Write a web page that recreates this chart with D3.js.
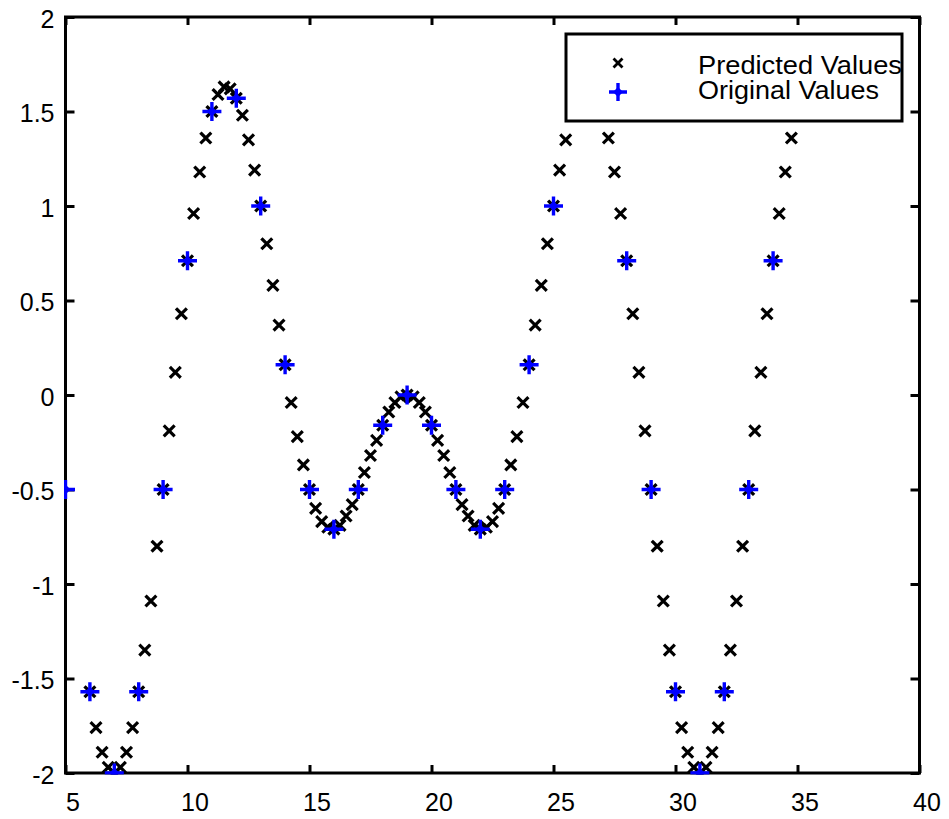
<!DOCTYPE html>
<html>
<head>
<meta charset="utf-8">
<script src="https://cdn.jsdelivr.net/npm/d3@7"></script>
<style>
  html, body { margin: 0; padding: 0; background: #fff; }
  svg { display: block; }
  text { font-family: "Liberation Sans", Arial, sans-serif; fill: #000; }
</style>
</head>
<body>
<svg id="chart" width="949" height="819"></svg>
<script>
// Original samples, one per integer x
const originalX = [5, 6, 7, 8, 9, 10, 11, 12, 13, 14, 15, 16, 17, 18, 19, 20,
  21, 22, 23, 24, 25, 26, 27, 28, 29, 30, 31, 32, 33, 34, 35];
const originalY = [-0.50, -1.57, -2.00, -1.57, -0.50, 0.71, 1.50, 1.57, 1.00, 0.16,
  -0.50, -0.71, -0.50, -0.16, 0.00, -0.16, -0.50, -0.71, -0.50, 0.16,
  1.00, 1.57, 1.50, 0.71, -0.50, -1.57, -2.00, -1.57, -0.50, 0.71, 1.50];

// Predicted samples on a quarter-step grid from x = 6 to x = 35
const predictedStart = 6;
const predictedStep = 0.25;
const predictedY = [
  -1.57, -1.76, -1.89, -1.97,   // 6
  -2.00, -1.97, -1.89, -1.76,   // 7
  -1.57, -1.35, -1.09, -0.80,   // 8
  -0.50, -0.19, 0.12, 0.43,     // 9
  0.71, 0.96, 1.18, 1.36,       // 10
  1.50, 1.59, 1.63, 1.62,       // 11
  1.57, 1.48, 1.35, 1.19,       // 12
  1.00, 0.80, 0.58, 0.37,       // 13
  0.16, -0.04, -0.22, -0.37,    // 14
  -0.50, -0.60, -0.67, -0.70,   // 15
  -0.71, -0.69, -0.64, -0.58,   // 16
  -0.50, -0.41, -0.32, -0.24,   // 17
  -0.16, -0.09, -0.04, -0.01,   // 18
  0.00, -0.01, -0.04, -0.09,    // 19
  -0.16, -0.24, -0.32, -0.41,   // 20
  -0.50, -0.58, -0.64, -0.69,   // 21
  -0.71, -0.70, -0.67, -0.60,   // 22
  -0.50, -0.37, -0.22, -0.04,   // 23
  0.16, 0.37, 0.58, 0.80,       // 24
  1.00, 1.19, 1.35, 1.48,       // 25
  1.57, 1.62, 1.63, 1.59,       // 26
  1.50, 1.36, 1.18, 0.96,       // 27
  0.71, 0.43, 0.12, -0.19,      // 28
  -0.50, -0.80, -1.09, -1.35,   // 29
  -1.57, -1.76, -1.89, -1.97,   // 30
  -2.00, -1.97, -1.89, -1.76,   // 31
  -1.57, -1.35, -1.09, -0.80,   // 32
  -0.50, -0.19, 0.12, 0.43,     // 33
  0.71, 0.96, 1.18, 1.36,       // 34
  1.50                          // 35
];

const xTicks = [5, 10, 15, 20, 25, 30, 35, 40];
const yTicks = [-2, -1.5, -1, -0.5, 0, 0.5, 1, 1.5, 2];
const yTickLabels = ["-2", "-1.5", "-1", "-0.5", "0", "0.5", "1", "1.5", "2"];
const legendLabels = ["Predicted Values", "Original Values"];

const svg = d3.select("#chart");
const box = { left: 65.5, right: 919.5, top: 17, bottom: 773 };

const x = d3.scaleLinear().domain([5, 40]).range([box.left, box.right]);
const y = d3.scaleLinear().domain([-2, 2]).range([box.bottom, box.top]);

svg.append("rect").attr("width", 949).attr("height", 819).attr("fill", "#fff");

// markers are clipped at the outer edge of the frame line
svg.append("defs").append("clipPath").attr("id", "plotClip")
  .append("rect")
  .attr("x", box.left - 1.5).attr("y", box.top - 1.5)
  .attr("width", box.right - box.left + 3).attr("height", box.bottom - box.top + 3);

// axes: inward ticks on all four sides
const fmtY = d => yTickLabels[yTicks.indexOf(d)];

const gBottom = svg.append("g").attr("transform", `translate(0,${box.bottom})`)
  .call(d3.axisBottom(x).tickValues(xTicks).tickSizeInner(-8).tickSizeOuter(0).tickPadding(20).tickFormat(d3.format("d")));
const gTop = svg.append("g").attr("transform", `translate(0,${box.top})`)
  .call(d3.axisTop(x).tickValues(xTicks).tickSizeInner(-8).tickSizeOuter(0).tickFormat(""));
const gLeft = svg.append("g").attr("transform", `translate(${box.left},0)`)
  .call(d3.axisLeft(y).tickValues(yTicks).tickSizeInner(-9).tickSizeOuter(0).tickPadding(11).tickFormat(fmtY));
const gRight = svg.append("g").attr("transform", `translate(${box.right},0)`)
  .call(d3.axisRight(y).tickValues(yTicks).tickSizeInner(-9).tickSizeOuter(0).tickFormat(""));

[gBottom, gTop, gLeft, gRight].forEach(g => {
  g.select(".domain").remove();
  g.selectAll(".tick line").attr("stroke", "#000").attr("stroke-width", 3);
  g.selectAll(".tick text").attr("font-size", 25)
    .attr("font-family", "'Liberation Sans', Arial, sans-serif").attr("fill", "#000");
});
gBottom.selectAll(".tick text").attr("dx", 7);
gLeft.selectAll(".tick text").attr("dy", "0.4em");

// frame
svg.append("rect")
  .attr("x", box.left).attr("y", box.top)
  .attr("width", box.right - box.left).attr("height", box.bottom - box.top)
  .attr("fill", "none").attr("stroke", "#000").attr("stroke-width", 3);

const plot = svg.append("g").attr("clip-path", "url(#plotClip)");

const crossPath = h => `M${-h},${-h}L${h},${h}M${-h},${h}L${h},${-h}`;
const plusPath = h => `M${-h},0L${h},0M0,${-h}L0,${h}`;

function drawCross(g, cx, cy, h, w) {
  g.append("path").attr("d", crossPath(h))
    .attr("transform", `translate(${cx},${cy})`)
    .attr("fill", "none").attr("stroke", "#000")
    .attr("stroke-width", w).attr("stroke-linecap", "square");
}
function drawPlus(g, cx, cy, h) {
  const m = g.append("g").attr("transform", `translate(${cx},${cy})`);
  m.append("path").attr("d", plusPath(h))
    .attr("fill", "none").attr("stroke", "#0000ff").attr("stroke-width", 3.4);
  m.append("path").attr("d", "M0,-5L5,0L0,5L-5,0Z").attr("fill", "#0000ff");
}

// predicted series (black crosses)
const predicted = predictedY.map((v, i) => ({ x: predictedStart + i * predictedStep, y: v }));
predicted.forEach(d => drawCross(plot, x(d.x), y(d.y), 4.3, 3.2));

// original series (blue plus markers)
originalX.forEach((xv, i) => drawPlus(plot, x(xv), y(originalY[i]), 9.5));

// legend
const legend = svg.append("g");
legend.append("rect")
  .attr("x", 566).attr("y", 34).attr("width", 336).attr("height", 87)
  .attr("fill", "#fff").attr("stroke", "#000").attr("stroke-width", 3);
drawCross(legend, 618, 63, 3.5, 2.8);
drawPlus(legend, 618, 92, 9);
legend.selectAll("text.lab").data(legendLabels).join("text")
  .attr("class", "lab")
  .attr("x", 698)
  .attr("y", (d, i) => 74 + i * 25)
  .attr("font-size", 26)
  .attr("textLength", (d, i) => i === 0 ? 204 : 181)
  .attr("lengthAdjust", "spacingAndGlyphs")
  .text(d => d);
</script>
</body>
</html>
